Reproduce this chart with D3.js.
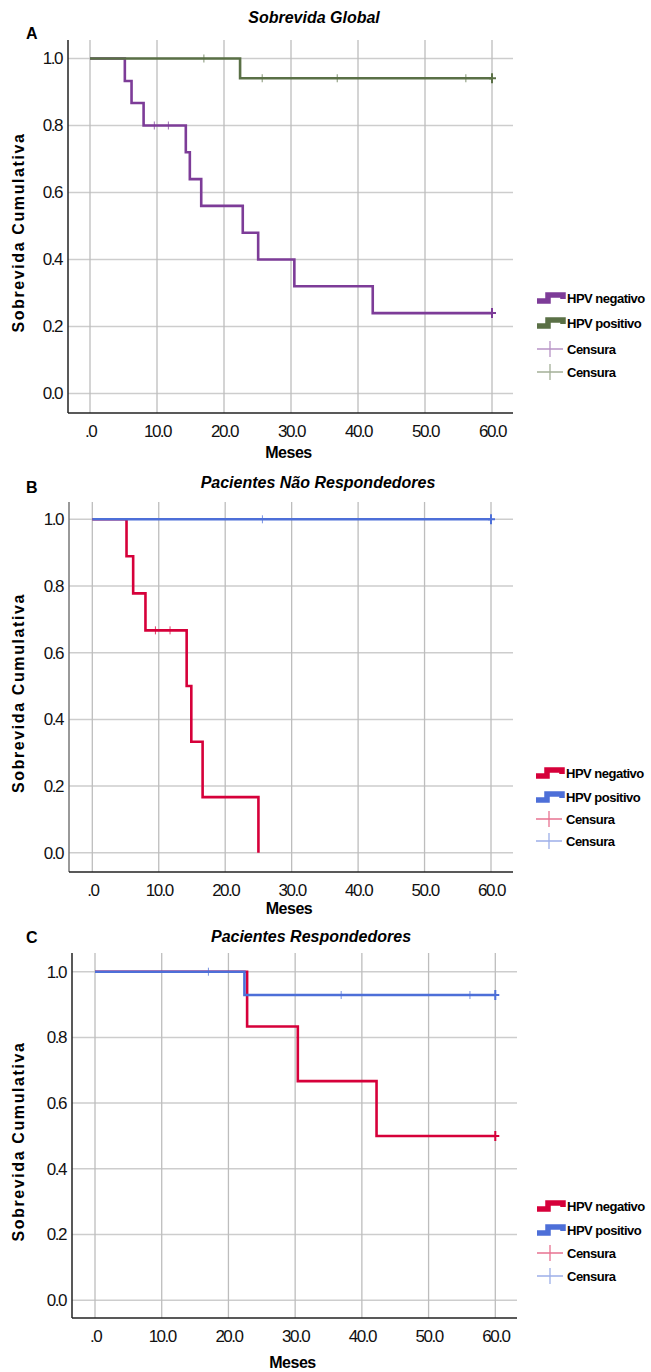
<!DOCTYPE html>
<html>
<head>
<meta charset="utf-8">
<style>
  body { margin: 0; background: #fff; font-family: "Liberation Sans", Arial, sans-serif; }
</style>
</head>
<body>
<div id="chart"></div>
<script src="https://d3js.org/d3.v7.min.js"></script>
<script>
  // ---- data ----
  const panelLetters = ["A", "B", "C"];
  const panelTitles = ["Sobrevida Global", "Pacientes Não Respondedores", "Pacientes Respondedores"];
  const groupNames = ["HPV negativo", "HPV positivo"];
  const censorName = "Censura";
  const xTicks = [0, 10, 20, 30, 40, 50, 60];
  const yTicks = [0, 0.2, 0.4, 0.6, 0.8, 1.0];

  // panel A
  const aNegTimes = [0, 5.2, 6.2, 8.0, 14.3, 14.9, 16.6, 22.8, 25.1, 30.5, 42.2, 60];
  const aNegSurv  = [1, 0.933, 0.867, 0.8, 0.72, 0.64, 0.56, 0.48, 0.40, 0.32, 0.24, 0.24];
  const aNegCens  = [9.6, 11.7, 60];
  const aPosTimes = [0, 22.4, 60];
  const aPosSurv  = [1, 0.941, 0.941];
  const aPosCens  = [17.0, 25.7, 36.9, 56.1, 60];

  // panel B
  const bNegTimes = [0, 5.15, 6.15, 8.0, 14.2, 14.9, 16.6, 25.0];
  const bNegSurv  = [1, 0.889, 0.778, 0.667, 0.5, 0.333, 0.167, 0];
  const bNegCens  = [9.5, 11.7];
  const bPosTimes = [0, 60];
  const bPosSurv  = [1, 1];
  const bPosCens  = [25.6, 60];

  // panel C
  const cNegTimes = [0, 22.8, 30.4, 42.2, 60];
  const cNegSurv  = [1, 0.833, 0.667, 0.5, 0.5];
  const cNegCens  = [60];
  const cPosTimes = [0, 22.4, 60];
  const cPosSurv  = [1, 0.929, 0.929];
  const cPosCens  = [17.0, 36.9, 56.2, 60];

  const panelColors = [["#7d3c98", "#5a7046"], ["#d6003a", "#4d6fd8"], ["#d6003a", "#4d6fd8"]];

  const panelData = [
    [[aNegTimes, aNegSurv, aNegCens], [aPosTimes, aPosSurv, aPosCens]],
    [[bNegTimes, bNegSurv, bNegCens], [bPosTimes, bPosSurv, bPosCens]],
    [[cNegTimes, cNegSurv, cNegCens], [cPosTimes, cPosSurv, cPosCens]]
  ];

  // ---- layout ----
  const layouts = [
    { left: 68, right: 513, top: 40, bottom: 413, x0: 90, x60: 492, y1: 58.5, y0: 393.5,
      titleX: 314, titleY: 23, letterY: 39, mesesY: 458, legX: 537, legY: [298, 323, 349, 372] },
    { left: 69, right: 513, top: 502, bottom: 872, x0: 92.3, x60: 491, y1: 519.3, y0: 852.8,
      titleX: 318, titleY: 488, letterY: 493, mesesY: 914, legX: 536, legY: [773, 797, 819, 841] },
    { left: 72, right: 517, top: 953, bottom: 1318, x0: 95, x60: 495.3, y1: 971.7, y0: 1300.2,
      titleX: 311, titleY: 942, letterY: 943, mesesY: 1368, legX: 537, legY: [1206, 1230, 1253, 1276] }
  ];

  const svg = d3.select("#chart").append("svg")
    .attr("width", 651)
    .attr("height", 1372)
    .style("background", "#fff");

  const survAt = (times, surv, t) => {
    let v = surv[0];
    times.forEach((tt, i) => { if (tt <= t) v = surv[i]; });
    return v;
  };

  layouts.forEach((L, p) => {
    const g = svg.append("g");

    const x = d3.scaleLinear().domain([0, 60]).range([L.x0, L.x60]);
    const y = d3.scaleLinear().domain([0, 1]).range([L.y0, L.y1]);

    // gridlines
    g.selectAll(".hgrid").data(yTicks).enter().append("line")
      .attr("x1", L.left).attr("x2", L.right)
      .attr("y1", d => y(d)).attr("y2", d => y(d))
      .attr("stroke", "#cdcdcd").attr("stroke-width", 1.5);
    g.selectAll(".vgrid").data(xTicks).enter().append("line")
      .attr("x1", d => x(d)).attr("x2", d => x(d))
      .attr("y1", L.top).attr("y2", L.bottom)
      .attr("stroke", "#bdbdbd").attr("stroke-width", 1.3);

    // axes
    const xAxis = g.append("g")
      .attr("transform", "translate(0," + L.bottom + ")")
      .call(d3.axisBottom(x).tickValues(xTicks).tickSize(0).tickPadding(12)
        .tickFormat(d => d === 0 ? ".0" : d.toFixed(1)));
    xAxis.select(".domain").remove();
    xAxis.selectAll("text").attr("font-size", 17).attr("letter-spacing", -1.5)
      .attr("fill", "#111").attr("font-family", "Liberation Sans, Arial, sans-serif");

    const yAxis = g.append("g")
      .attr("transform", "translate(" + L.left + ",0)")
      .call(d3.axisLeft(y).tickValues(yTicks).tickSize(0).tickPadding(6)
        .tickFormat(d3.format(".1f")));
    yAxis.select(".domain").remove();
    yAxis.selectAll("text").attr("font-size", 17).attr("letter-spacing", -1.5)
      .attr("fill", "#111").attr("font-family", "Liberation Sans, Arial, sans-serif");

    g.append("line").attr("x1", L.left).attr("x2", L.left)
      .attr("y1", L.top).attr("y2", L.bottom)
      .attr("stroke", p === 1 ? "#777" : "#222").attr("stroke-width", 1.5);
    g.append("line").attr("x1", L.left).attr("x2", L.right)
      .attr("y1", L.bottom).attr("y2", L.bottom)
      .attr("stroke", "#222").attr("stroke-width", 1.5);

    // curves
    const line = d3.line().curve(d3.curveStepAfter)
      .x(d => x(d[0])).y(d => y(d[1]));

    panelData[p].forEach((s, k) => {
      const [times, surv, cens] = s;
      const color = panelColors[p][k];
      g.append("path")
        .datum(times.map((t, i) => [t, surv[i]]))
        .attr("d", line)
        .attr("fill", "none")
        .attr("stroke", color)
        .attr("stroke-width", 2.6);
      g.selectAll(".cens" + k).data(cens).enter().append("path")
        .attr("d", d => {
          const cx = x(d), cy = y(survAt(times, surv, d));
          const h = d === 60 ? 5 : 4;
          return "M" + cx + "," + (cy - h) + "V" + (cy + h) +
            (d === 60 ? "M" + (cx - 3) + "," + cy + "H" + (cx + 4) : "");
        })
        .attr("stroke", color)
        .attr("stroke-width", d => d === 60 ? 2 : 1)
        .attr("opacity", d => d === 60 ? 1 : 0.75);
    });

    // titles and labels
    svg.append("text").attr("x", L.titleX).attr("y", L.titleY)
      .attr("text-anchor", "middle").attr("font-size", 16)
      .attr("font-weight", "bold").attr("font-style", "italic")
      .text(panelTitles[p]);
    svg.append("text").attr("x", 26).attr("y", L.letterY)
      .attr("font-size", 16).attr("font-weight", "bold")
      .text(panelLetters[p]);
    svg.append("text").attr("x", (L.left + L.right) / 2 - 2).attr("y", L.mesesY)
      .attr("text-anchor", "middle").attr("font-size", 16).attr("font-weight", "bold")
      .attr("letter-spacing", -0.5)
      .text("Meses");
    svg.append("text")
      .attr("transform", "translate(24," + ((L.top + L.bottom) / 2 + 6) + ") rotate(-90)")
      .attr("text-anchor", "middle").attr("font-size", 16).attr("font-weight", "bold")
      .attr("letter-spacing", 1.6)
      .text("Sobrevida Cumulativa");

    // legend
    const leg = svg.append("g");
    groupNames.forEach((name, k) => {
      const cy = L.legY[k];
      leg.append("path")
        .attr("d", "M" + L.legX + "," + (cy + 3) + "H" + (L.legX + 11) + "V" + (cy - 3) +
          "H" + (L.legX + 26) + "V" + (cy + 1))
        .attr("fill", "none").attr("stroke", panelColors[p][k]).attr("stroke-width", 5.5);
      leg.append("text").attr("x", L.legX + 30).attr("y", cy + 4.5)
        .attr("font-size", 13).attr("font-weight", "bold").attr("letter-spacing", -0.5)
        .text(name);
    });
    [0, 1].forEach(k => {
      const cy = L.legY[k + 2];
      leg.append("path")
        .attr("d", "M" + L.legX + "," + cy + "H" + (L.legX + 26) +
          "M" + (L.legX + 13) + "," + (cy - 8) + "V" + (cy + 8))
        .attr("stroke", panelColors[p][k]).attr("stroke-width", 1.3).attr("opacity", 0.55);
      leg.append("text").attr("x", L.legX + 30).attr("y", cy + 4.5)
        .attr("font-size", 13).attr("font-weight", "bold").attr("letter-spacing", -0.5)
        .text(censorName);
    });
  });
</script>
</body>
</html>
